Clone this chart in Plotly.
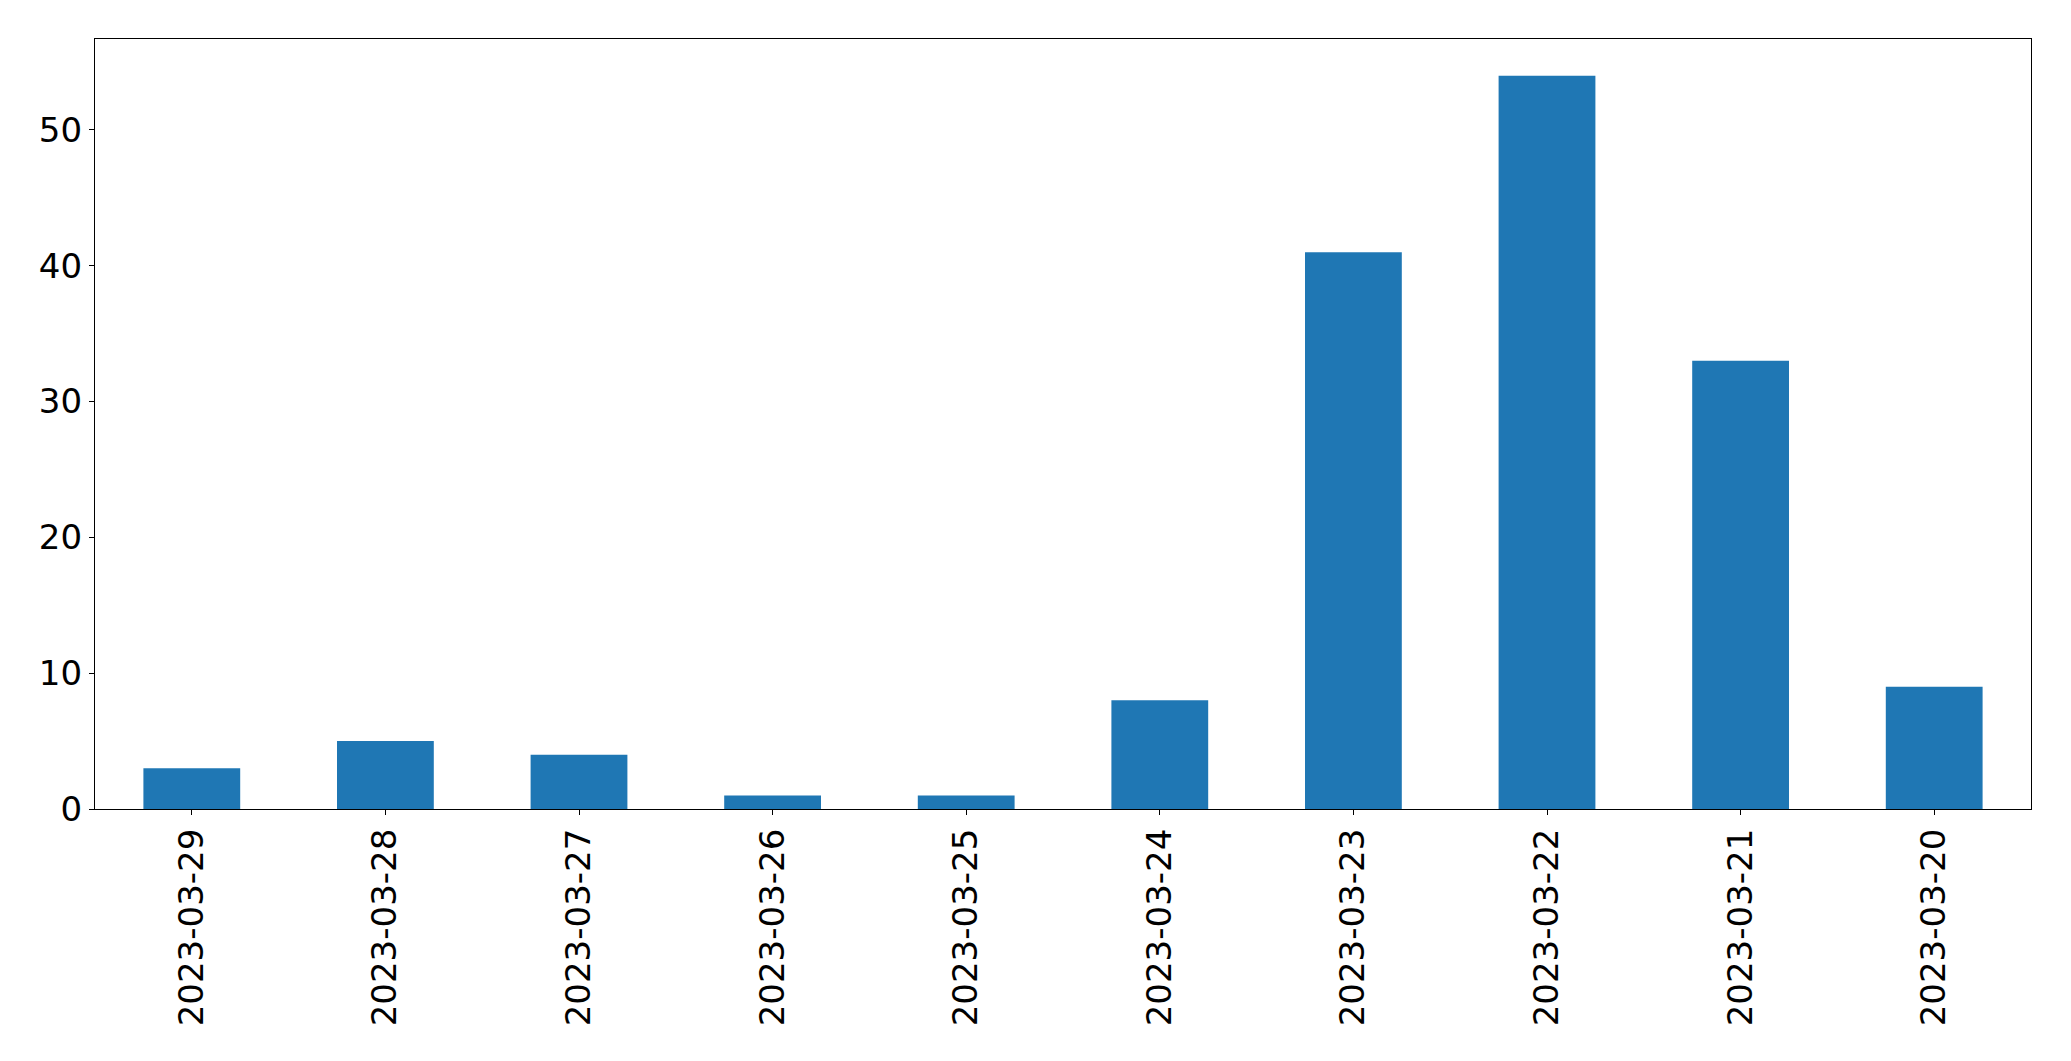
import plotly.graph_objects as go

dates = ["2023-03-29", "2023-03-28", "2023-03-27", "2023-03-26", "2023-03-25",
         "2023-03-24", "2023-03-23", "2023-03-22", "2023-03-21", "2023-03-20"]
counts = [3, 5, 4, 1, 1, 8, 41, 54, 33, 9]

fig = go.Figure(go.Bar(x=dates, y=counts, marker=dict(color="#1f77b4", line=dict(width=0)), width=0.5))

W, H = 2071, 1061
L, R, T, B = 94.7, 39.7, 39.3, 252
fig.update_layout(
    width=W, height=H, autosize=False,
    margin=dict(l=L, r=R, t=T, b=B, pad=0),
    plot_bgcolor="white", paper_bgcolor="white",
    font=dict(family="DejaVu Sans", size=34, color="black"),
    showlegend=False,
    bargap=0.5,
)
fig.update_xaxes(
    type="category", range=[-0.5, 9.5], tickangle=-90,
    showline=True, linecolor="black", linewidth=1.2, mirror=True,
    ticks="outside", ticklen=5, tickwidth=1.2, tickcolor="black",
    showgrid=False, zeroline=False, tickfont=dict(size=34),
)
fig.update_yaxes(
    range=[0, 56.7], tickvals=[0, 10, 20, 30, 40, 50],
    showline=True, linecolor="black", linewidth=1.2, mirror=True,
    ticks="outside", ticklen=5, tickwidth=1.2, tickcolor="black",
    showgrid=False, zeroline=False, tickfont=dict(size=34),
)

fig.write_html("out.html", config={"displayModeBar": False},
               post_script="document.body.style.margin='0';document.body.style.overflow='hidden';")
